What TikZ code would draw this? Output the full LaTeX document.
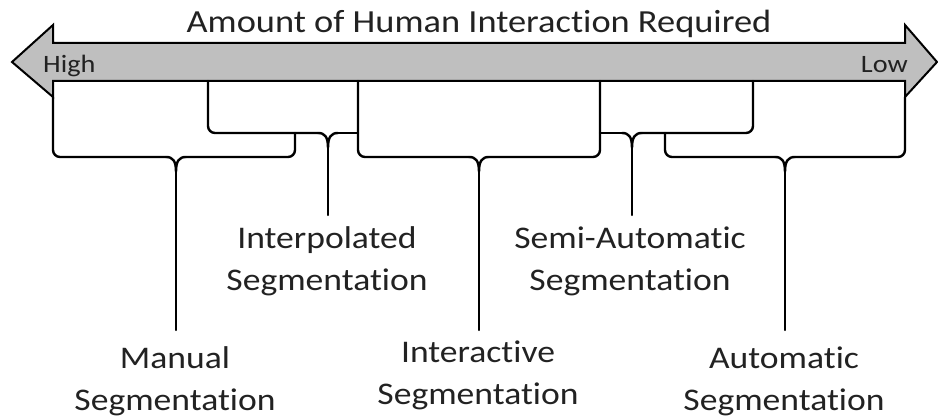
\documentclass[tikz,border=0pt]{standalone}
\usepackage{fontspec}
\setmainfont[FakeStretch=1.13, Ligatures={NoCommon}]{Carlito}
\definecolor{arrowgray}{HTML}{BFBFBF}
\definecolor{txt}{HTML}{222222}
\tikzset{
  br/.style={line width=2.4pt, black, line join=round, line cap=round},
  lbl/.style={align=center, inner sep=0pt, anchor=base, text=txt,
    font=\fontsize{31.5}{42}\selectfont},
  endlbl/.style={inner sep=0pt, anchor=base, text=txt,
    font=\fontsize{25}{30}\selectfont},
}
\begin{document}
\begin{tikzpicture}[x=1pt,y=-1pt]
\useasboundingbox (0,0) rectangle (938,419);
% double arrow
\draw[fill=arrowgray, line width=2pt, line join=miter]
  (12,62) -- (53,25) -- (53,43) -- (905,43) -- (905,25) -- (937,62)
  -- (905,97) -- (905,81) -- (53,81) -- (53,97) -- cycle;
\node[lbl, font=\fontsize{32.2}{42}\selectfont] (title) at (479,33) {Amount of Human Interaction Required};
\node[endlbl, anchor=base west] (high) at (43,73) {High};
\node[endlbl, anchor=base east] (low) at (908,73) {Low};

% labels (base anchor = baseline of the last line)
\node[lbl] (manual) at (175,410.5) {Manual\\Segmentation};
\node[lbl] (interp) at (327,291) {Interpolated\\Segmentation};
\node[lbl] (inter) at (478,405) {Interactive\\Segmentation};
\node[lbl] (semi) at (630,291) {Semi-Automatic\\Segmentation};
\node[lbl] (auto) at (784,410.5) {Automatic\\Segmentation};

% stem ends
\coordinate (s1) at (176,330);
\coordinate (s2) at (328,215);
\coordinate (s3) at (479,330);
\coordinate (s4) at (632,215);
\coordinate (s5) at (785,330);

% cusp macro: #1 = cusp x, #2 = horizontal y, #3 = stem end
\newcommand\cusp[3]{%
  \draw[br] ({#1-10},#2) .. controls ({#1-3},#2) and (#1,{#2+4}) .. (#1,{#2+15})
     .. controls (#1,{#2+4}) and ({#1+3},#2) .. ({#1+10},#2);
  \draw[br] (#1,{#2+14}) -- (#3);
}

% B1 manual
\draw[br, rounded corners=7] (53,97) -- (53,157) -- (166,157);
\draw[br, rounded corners=7] (295,133) -- (295,157) -- (186,157);
\cusp{176}{157}{s1}
% B2 interpolated
\draw[br, rounded corners=7] (208,81) -- (208,133) -- (318,133);
\draw[br] (358,133) -- (338,133);
\cusp{328}{133}{s2}
% B3 interactive
\draw[br, rounded corners=7] (358,81) -- (358,157) -- (469,157);
\draw[br, rounded corners=7] (600,81) -- (600,157) -- (489,157);
\cusp{479}{157}{s3}
% B4 semi-automatic
\draw[br] (600,133) -- (622,133);
\draw[br, rounded corners=7] (753,81) -- (753,133) -- (642,133);
\cusp{632}{133}{s4}
% B5 automatic
\draw[br, rounded corners=7] (665,133) -- (665,157) -- (775,157);
\draw[br, rounded corners=7] (905,97) -- (905,157) -- (795,157);
\cusp{785}{157}{s5}
\end{tikzpicture}
\end{document}
